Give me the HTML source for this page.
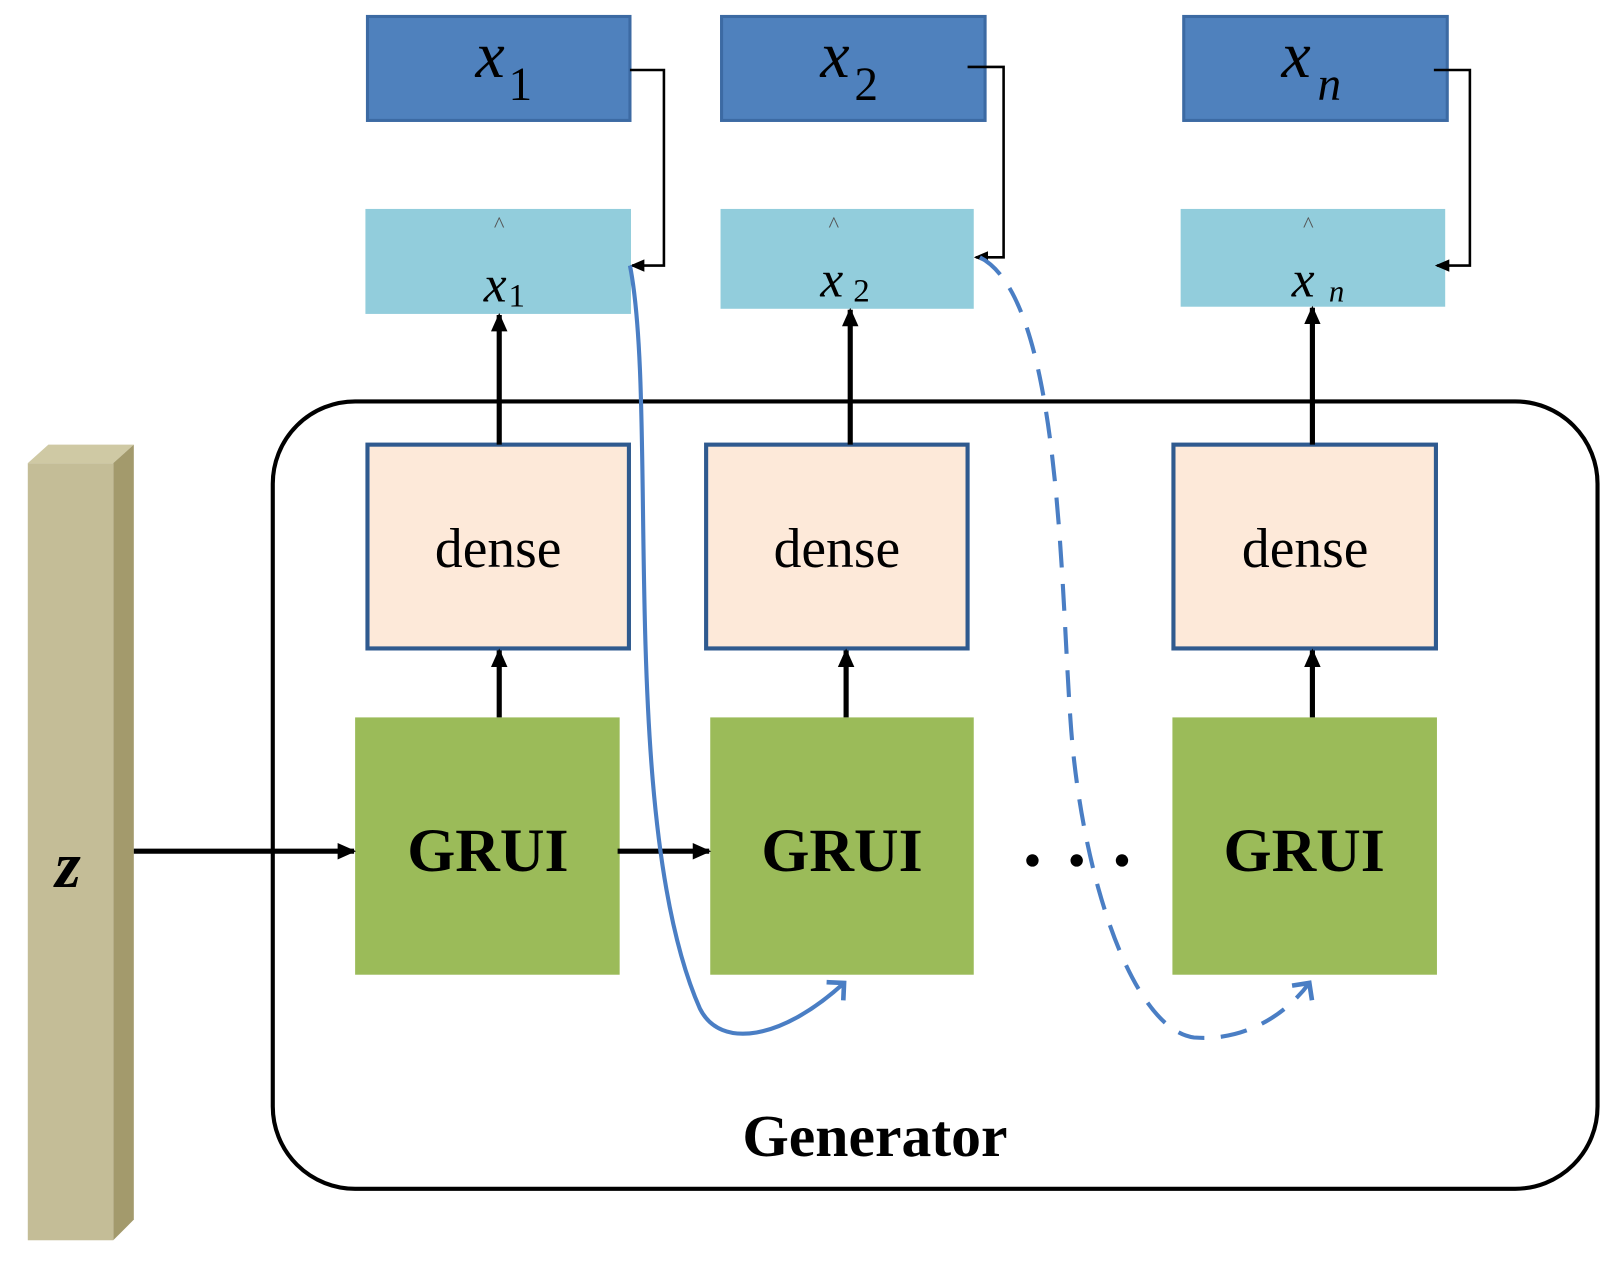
<!DOCTYPE html>
<html><head><style>html,body{margin:0;padding:0;background:#fff}svg{display:block}</style></head>
<body>
<svg width="1614" height="1266" viewBox="0 0 1568 1230" preserveAspectRatio="none" xmlns="http://www.w3.org/2000/svg" font-family="'Liberation Serif', 'DejaVu Serif', serif">
<defs>
<marker id="ah" markerWidth="18" markerHeight="18" refX="16" refY="9" orient="auto" markerUnits="userSpaceOnUse" viewBox="0 0 18 18"><path d="M0,1 L18,9 L0,17 z" fill="#000"/></marker>
<marker id="ahs" markerWidth="14" markerHeight="14" refX="12" refY="7" orient="auto" markerUnits="userSpaceOnUse" viewBox="0 0 14 14"><path d="M0,1 L14,7 L0,13 z" fill="#000"/></marker>
<marker id="ab" markerWidth="30" markerHeight="30" refX="14" refY="15" orient="auto" markerUnits="userSpaceOnUse"><path d="M2,3 L14,15 L2,27" fill="none" stroke="#4a7ec4" stroke-width="4.5"/></marker>
</defs>
<polygon points="27,450 47,432 130,432 110,450" fill="#cfc9a4"/>
<polygon points="110,450 130,432 130,1185 110,1205" fill="#a39a6c"/>
<rect x="27" y="450" width="83" height="755" fill="#c4bd97"/>
<text x="66" y="862" font-size="64" font-style="italic" font-weight="bold" text-anchor="middle">z</text>
<rect x="265" y="390" width="1287" height="765" rx="80" fill="none" stroke="#000" stroke-width="4"/>
<text x="850" y="1123" font-size="58" font-weight="bold" text-anchor="middle">Generator</text>
<g fill="#4f81bd" stroke="#3c6aa3" stroke-width="3">
<rect x="357" y="16" width="255" height="101"/>
<rect x="701" y="16" width="256" height="101"/>
<rect x="1150" y="16" width="256" height="101"/>
</g>
<g font-size="64" font-style="italic">
<text x="462" y="75">x</text><text x="494" y="97" font-size="46" font-style="normal">1</text>
<text x="797" y="75">x</text><text x="830" y="97" font-size="46" font-style="normal">2</text>
<text x="1245" y="75">x</text><text x="1280" y="97" font-size="46">n</text>
</g>
<g fill="#92cddc">
<rect x="355" y="203" width="258" height="102"/>
<rect x="700" y="203" width="246" height="97"/>
<rect x="1147" y="203" width="257" height="95"/>
</g>
<g fill="#555" font-size="22" text-anchor="middle"><text x="485" y="225">^</text><text x="810" y="225">^</text><text x="1271" y="225">^</text></g>
<g font-size="50" font-style="italic">
<text x="470" y="293">x</text><text x="494" y="298" font-size="32" font-style="normal">1</text>
<text x="797" y="288">x</text><text x="829" y="293" font-size="32" font-style="normal">2</text>
<text x="1255" y="288">x</text><text x="1291" y="293" font-size="30">n</text>
</g>
<g fill="none" stroke="#000" stroke-width="2.5">
<polyline points="612,68 645,68 645,258 614,258" marker-end="url(#ahs)"/>
<polyline points="940,65 975,65 975,250 948,250" marker-end="url(#ahs)"/>
<polyline points="1393,68 1428,68 1428,258 1396,258" marker-end="url(#ahs)"/>
</g>
<g fill="#fde9d9" stroke="#2f5a8f" stroke-width="4">
<rect x="357" y="432" width="254" height="198"/>
<rect x="686" y="432" width="254" height="198"/>
<rect x="1140" y="432" width="255" height="198"/>
</g>
<g font-size="54" text-anchor="middle"><text x="484" y="551">dense</text><text x="813" y="551">dense</text><text x="1268" y="551">dense</text></g>
<g fill="#9bbb59">
<rect x="345" y="697" width="257" height="250"/>
<rect x="690" y="697" width="256" height="250"/>
<rect x="1139" y="697" width="257" height="250"/>
</g>
<g font-size="60" font-weight="bold" text-anchor="middle"><text x="474" y="846">GRUI</text><text x="818" y="846">GRUI</text><text x="1267" y="846">GRUI</text></g>
<g stroke="#000" stroke-width="5" marker-end="url(#ah)">
<line x1="485" y1="432" x2="485" y2="306"/>
<line x1="826" y1="432" x2="826" y2="301"/>
<line x1="1275" y1="432" x2="1275" y2="299"/>
<line x1="485" y1="697" x2="485" y2="632"/>
<line x1="822" y1="697" x2="822" y2="632"/>
<line x1="1275" y1="697" x2="1275" y2="632"/>
<line x1="130" y1="827" x2="344" y2="827"/>
<line x1="600" y1="827" x2="689" y2="827"/>
</g>
<g fill="#000"><circle cx="1003" cy="836" r="6"/><circle cx="1046" cy="836" r="6"/><circle cx="1090" cy="836" r="6"/></g>
<path d="M612,258 C640,400 600,800 680,980 C700,1020 760,1010 820,955" fill="none" stroke="#4a7ec4" stroke-width="4" marker-end="url(#ab)"/>
<path d="M952,250 C1030,290 1030,560 1040,700 C1050,850 1100,1000 1160,1008 C1210,1012 1250,985 1272,955" fill="none" stroke="#4a7ec4" stroke-width="4" stroke-dasharray="26,16" marker-end="url(#ab)"/>
</svg>
</body></html>
